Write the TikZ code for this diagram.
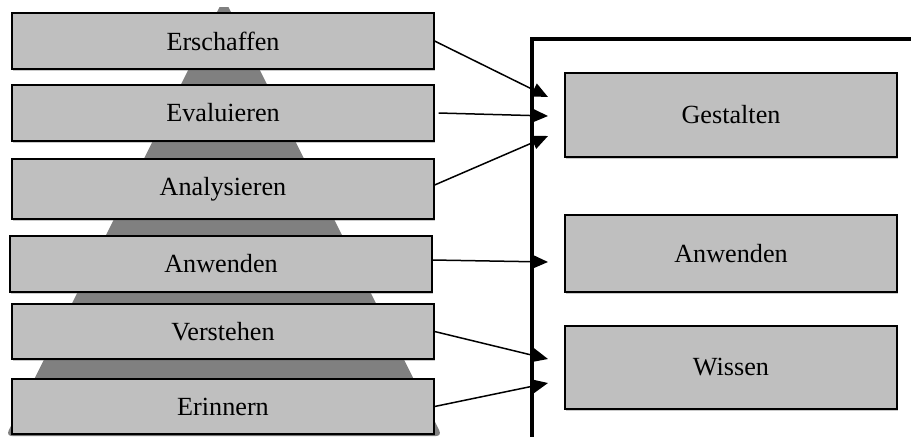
\documentclass[tikz,border=0pt]{standalone}
\usepackage{fontspec}
\setmainfont{Liberation Serif}
\usetikzlibrary{arrows.meta,shadows}
\begin{document}
\begin{tikzpicture}[x=0.5pt,y=-0.5pt,
  lbox/.style={draw=black,line width=0.6pt,fill=black!25,minimum width=211pt,
    inner sep=0pt,font=\fontsize{13.1}{15}\selectfont,
    drop shadow={shadow xshift=0.6pt,shadow yshift=-0.9pt,opacity=0.35,fill=black!60}},
  rbox/.style={lbox,minimum width=166pt},
  conn/.style={line width=0.75pt,-{Triangle[length=8pt,width=7pt]}}]
\useasboundingbox (0,0) rectangle (911,436);
\clip (0,0) rectangle (911,436);
% pyramid
\begin{scope}
\clip (0,7) rectangle (911,440);
\fill[black!50,rounded corners=3pt] (224,-2) -- (6,436) -- (442,436) -- cycle;
\end{scope}
% container
\draw[line width=2pt] (532,440) -- (532,39) -- (915,39);
% left boxes
\node[lbox,minimum height=28pt] (erschaffen) at (223,41) {Erschaffen};
\node[lbox,minimum height=28pt] (evaluieren) at (223,113) {Evaluieren};
\node[lbox,minimum height=30pt] (analysieren) at (223,189) {Analysieren};
\node[lbox,minimum height=28pt] (anwendenL) at (221,264) {Anwenden};
\node[lbox,minimum height=27.5pt] (verstehen) at (223,331.5) {Verstehen};
\node[lbox,minimum height=27.5pt] (erinnern) at (223,406.5) {Erinnern};
% right boxes
\node[rbox,minimum height=42pt] (gestalten) at (731,115) {Gestalten};
\node[rbox,minimum height=38.5pt] (anwendenR) at (731,253.5) {Anwenden};
\node[rbox,minimum height=41.5pt] (wissen) at (731,367.5) {Wissen};
% arrow tips
\coordinate (t1) at (548,97);
\coordinate (t2) at (548,116);
\coordinate (t3) at (548,136);
\coordinate (t4) at (548,262);
\coordinate (t5) at (548,359);
\coordinate (t6) at (548,383);
\draw[conn] (erschaffen.east) -- (t1);
\draw[conn] ([xshift=2pt]evaluieren.east) -- (t2);
\draw[conn] ([yshift=2pt]analysieren.east) -- (t3);
\draw[conn] ([yshift=2pt]anwendenL.east) -- (t4);
\draw[conn] (verstehen.east) -- (t5);
\draw[conn] (erinnern.east) -- (t6);
\end{tikzpicture}
\end{document}
